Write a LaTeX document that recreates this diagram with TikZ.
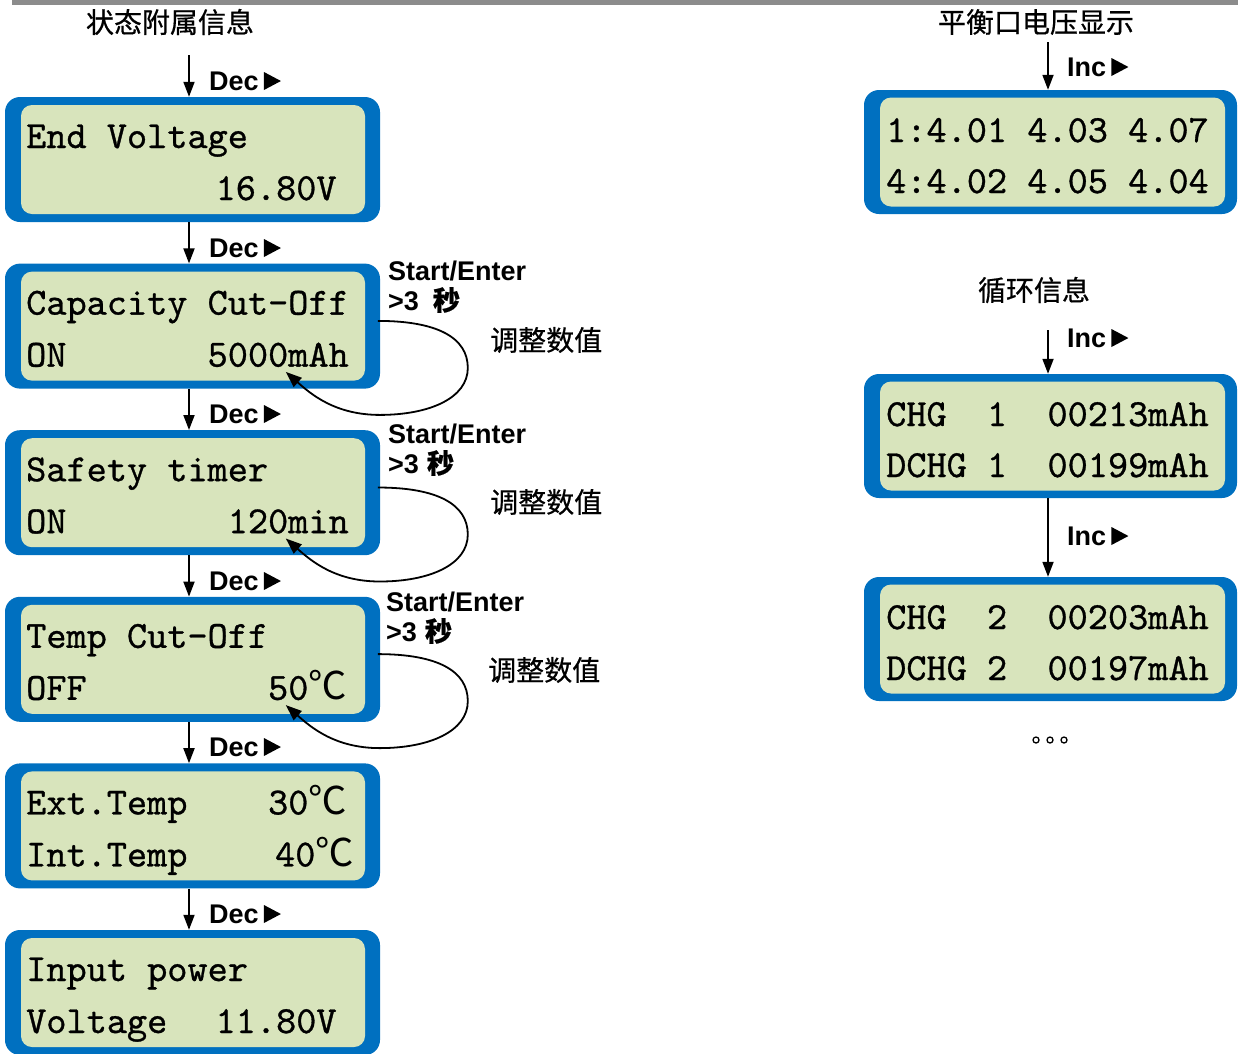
\documentclass[tikz,border=0pt]{standalone}
\usepackage{fontspec}
\usetikzlibrary{arrows.meta,calc}
\newfontfamily\cjk{Noto Sans CJK SC}[FakeBold=0.6]
\newfontfamily\cjkr{Noto Sans CJK SC}
\newfontfamily\arial{Liberation Sans}
\newfontfamily\lcdfont{lmmono10-regular.otf}[FakeBold=0.8]
\definecolor{lcdblue}{HTML}{0070C0}
\definecolor{lcdgreen}{HTML}{D8E4BC}
\definecolor{topgray}{HTML}{8C8C8C}
\newcommand\celsius{{\cjkr ℃}}
\tikzset{
  outerbox/.style={fill=lcdblue, rounded corners=15pt, minimum width=375pt, minimum height=125pt, inner sep=0pt},
  innerbox/.style={fill=lcdgreen, rounded corners=11pt, minimum width=344pt, minimum height=109pt, inner sep=0pt},
  routerbox/.style={outerbox, minimum width=373pt, minimum height=124pt},
  rinnerbox/.style={innerbox, minimum width=345pt, minimum height=109pt},
  lcdtext/.style={anchor=base west, inner sep=0pt, font=\fontsize{38.4}{40}\selectfont\lcdfont},
  keylbl/.style={anchor=west, inner sep=0pt, font=\fontsize{27}{30}\selectfont\arial\bfseries},
  cjklbl/.style={inner sep=0pt, font=\fontsize{28}{30}\selectfont\cjk},
  flow/.style={line width=1.8pt, -{Triangle[width=11pt,length=15pt]}},
  loopline/.style={line width=1.8pt, -{Triangle[width=12pt,length=16pt]}},
}
\newcommand\tri[1]{\fill ($(#1.east)+(5pt,-9pt)$) -- ++(0pt,18pt) -- ++(17pt,-9pt) -- cycle;}
\newcommand\adjloop[1]{%
  \draw[loopline] ($(#1.north west)+(373pt,-57.5pt)$)
    .. controls +(60pt,0pt) and +(0pt,30pt) .. ($(#1.north west)+(463pt,-104.5pt)$)
    .. controls +(0pt,-30pt) and +(50pt,0pt) .. ($(#1.north west)+(375pt,-151.5pt)$)
    .. controls +(-45pt,0pt) and +(25pt,-22pt) .. ($(#1.north west)+(281pt,-108.5pt)$);}
\begin{document}
\begin{tikzpicture}[x=1pt,y=-1pt]
\useasboundingbox (0,0) rectangle (1238,1053);
\fill[topgray] (12,0) rectangle (1238,4.5);

% ---------- left column ----------
\node[cjklbl] (t1) at (170,22) {状态附属信息};
\coordinate (s1) at (189,55);

\foreach \i/\c in {1/159.5,2/326.1,3/492.7,4/659.3,5/825.9,6/992.5}{
  \node[outerbox] (b\i) at (192.5,\c) {};
  \node[innerbox] (b\i i) at (193,\c) {};
}

% texts
\node[lcdtext] (b1a) at (26,148) {End~Voltage};
\node[lcdtext] (b1b) at (26,200) {~~~~~~~~~\hspace{8pt}16.80V};
\node[lcdtext] (b2a) at (26,314.6) {Capacity~Cut-Off};
\node[lcdtext] (b2b) at (26,366.6) {ON~~~~~~~5000mAh};
\node[lcdtext] (b3a) at (26,481.2) {Safety~timer};
\node[lcdtext] (b3b) at (26,533.2) {ON~~~~~~~~120min};
\node[lcdtext] (b4a) at (26,647.8) {Temp~Cut-Off};
\node[lcdtext] (b4b) at (26,699.8) {OFF~~~~~~~~~50\celsius};
\node[lcdtext] (b5a) at (26,814.4) {Ext.Temp~~~~30\celsius};
\node[lcdtext] (b5b) at (26,866.4) {Int.Temp~~~~\hspace{7pt}40\celsius};
\node[lcdtext] (b6a) at (26,981) {Input~power};
\node[lcdtext] (b6b) at (26,1033) {Voltage~~\hspace{8pt}11.80V};

% Dec arrows
\draw[flow] (s1) -- ([xshift=-3.5pt]b1.north);
\foreach \a/\b in {1/2,2/3,3/4,4/5,5/6}{
  \draw[flow] ([xshift=-3.5pt]b\a.south) -- ([xshift=-3.5pt]b\b.north);
}
\foreach \i/\y in {1/81,2/248,3/414,4/581,5/747,6/914}{
  \node[keylbl] (d\i) at (209,\y) {Dec};
  \tri{d\i}
}

% adjust loops
\adjloop{b2}
\adjloop{b3}
\adjloop{b4}
\node[keylbl] (se2) at (388,271) {Start/Enter};
\node[keylbl] (gt2) at (388,300) {>3\hspace{14pt}{\cjk 秒}};
\node[cjklbl,anchor=west] (adj2) at (490,340) {调整数值};
\node[keylbl] (se3) at (388,434) {Start/Enter};
\node[keylbl] (gt3) at (388,463) {>3\hspace{8pt}{\cjk 秒}};
\node[cjklbl,anchor=west] (adj3) at (490,502) {调整数值};
\node[keylbl] (se4) at (386,602) {Start/Enter};
\node[keylbl] (gt4) at (386,631) {>3\hspace{8pt}{\cjk 秒}};
\node[cjklbl,anchor=west] (adj4) at (488,670) {调整数值};

% ---------- right column ----------
\node[cjklbl] (t2) at (1036,22) {平衡口电压显示};
\coordinate (s2) at (1048,42);
\node[routerbox] (rA) at (1050.5,152) {};
\node[rinnerbox] (rAi) at (1052.5,152) {};
\node[lcdtext] (rAa) at (886,142) {1:4.01~4.03~4.07};
\node[lcdtext] (rAb) at (886,193) {4:4.02~4.05~4.04};
\draw[flow] (s2) -- ([xshift=-2.5pt]rA.north);
\node[keylbl] (iA) at (1067,67) {Inc};
\tri{iA}

\node[cjklbl] (t3) at (1034,290) {循环信息};
\coordinate (s3) at (1048,330);
\node[routerbox] (rB) at (1050.5,436) {};
\node[rinnerbox] (rBi) at (1052.5,436) {};
\node[lcdtext] (rBa) at (886,426) {CHG~~1~~00213mAh};
\node[lcdtext] (rBb) at (886,477) {DCHG~1~~00199mAh};
\draw[flow] (s3) -- ([xshift=-2.5pt]rB.north);
\node[keylbl] (iB) at (1067,338) {Inc};
\tri{iB}

\node[routerbox] (rC) at (1050.5,639) {};
\node[rinnerbox] (rCi) at (1052.5,639) {};
\node[lcdtext] (rCa) at (886,629) {CHG~~2~~00203mAh};
\node[lcdtext] (rCb) at (886,680) {DCHG~2~~00197mAh};
\draw[flow] ([xshift=-2.5pt]rB.south) -- ([xshift=-2.5pt]rC.north);
\node[keylbl] (iC) at (1067,536) {Inc};
\tri{iC}

\foreach \x in {1036,1050,1064}{
  \draw[line width=1.3pt] (\x,740) circle[radius=3pt];
}
\end{tikzpicture}
\end{document}
